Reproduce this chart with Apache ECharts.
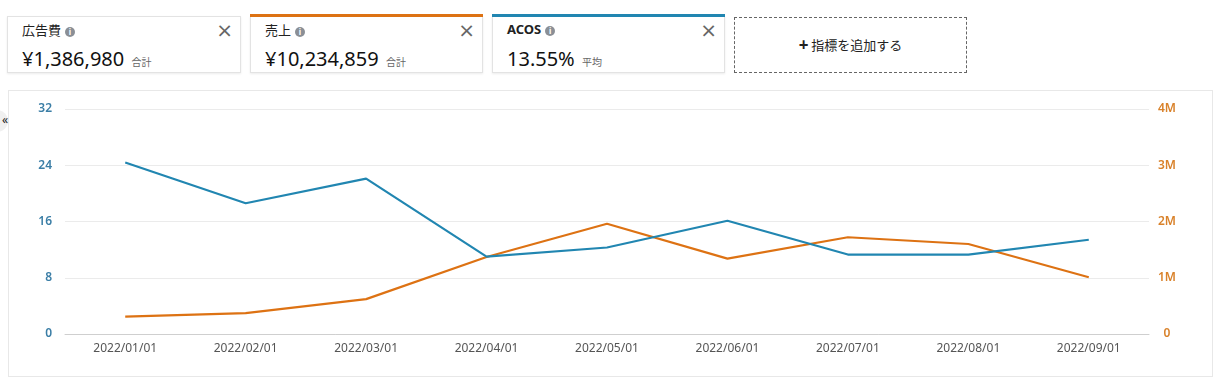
<!DOCTYPE html>
<html>
<head>
<meta charset="utf-8">
<script src="https://cdn.jsdelivr.net/npm/echarts@6/dist/echarts.min.js"></script>
<style>
  body { margin: 0; width: 1220px; height: 386px; background: #fff; position: relative; overflow: hidden;
         font-family: "Noto Sans", "Noto Sans CJK JP", sans-serif; color: #111; }
  .card { position: absolute; top: 16px; height: 57px; box-sizing: border-box; background: #fff;
          border: 1px solid #e3e3e3; box-shadow: 0 1px 2px rgba(0,0,0,0.08); }
  .card .ttl { position: absolute; left: 14px; top: 3px; font-size: 13px; color: #222; }
  .card .ttl b { font-weight: 700; }
  .card .info { display: inline-block; width: 10px; height: 10px; border-radius: 50%; background: #8a8f96;
                color: #fff; font-size: 8px; line-height: 10px; text-align: center; margin-left: 4px; vertical-align: 0px; font-weight: 700; }
  .card .x { position: absolute; right: 7px; top: 1px; font-size: 20px; color: #666; font-family: "DejaVu Sans", sans-serif; }
  .card .val { position: absolute; left: 14px; top: 28px; font-size: 20px; color: #111; white-space: nowrap; }
  .card .val small { font-size: 10px; color: #666; margin-left: 2px; }
  .bar { position: absolute; left: -1px; right: -1px; top: -3px; height: 3px; }
  .add { position: absolute; left: 734px; top: 17px; width: 233px; height: 56px; box-sizing: border-box;
         border: 1px dashed #666; font-size: 13px; text-align: center; line-height: 54px; color: #222; }
  .add span { font-size: 17px; font-weight: 700; vertical-align: -1px; margin-right: 3px; }
  #wrap { position: absolute; left: 8px; top: 90px; width: 1205px; height: 287px; box-sizing: border-box;
          border: 1px solid #e8e8e8; }
  #box { width: 100%; height: 100%; }
  .coll { position: absolute; left: -8px; top: 110px; width: 16px; height: 22px; border-radius: 0 11px 11px 0;
          background: #f0f0f0; font-size: 12px; line-height: 20px; text-align: right; color: #222; }
</style>
</head>
<body>
<div class="card" style="left:7px;width:234px;">
  <div class="ttl">広告費<span class="info">i</span></div>
  <div class="x">×</div>
  <div class="val">¥1,386,980 <small>合計</small></div>
</div>
<div class="card" style="left:250px;width:233px;">
  <div class="bar" style="background:#dd7213"></div>
  <div class="ttl">売上<span class="info">i</span></div>
  <div class="x">×</div>
  <div class="val">¥10,234,859 <small>合計</small></div>
</div>
<div class="card" style="left:492px;width:233px;">
  <div class="bar" style="background:#2186b1"></div>
  <div class="ttl"><b>ACOS</b><span class="info">i</span></div>
  <div class="x">×</div>
  <div class="val">13.55% <small>平均</small></div>
</div>
<div class="add"><span>+</span>指標を追加する</div>
<div id="wrap"><div id="box"></div></div>
<div class="coll">«</div>
<script>
// x 軸の日付
const dates = ['2022/01/01', '2022/02/01', '2022/03/01', '2022/04/01', '2022/05/01',
               '2022/06/01', '2022/07/01', '2022/08/01', '2022/09/01'];
// ACOS (%) 左軸
const acos = [24.4, 18.6, 22.1, 11.0, 12.3, 16.1, 11.3, 11.3, 13.4];
// 売上 (円) 右軸
const sales = [310000, 370000, 620000, 1370000, 1960000, 1340000, 1720000, 1600000, 1010000];
// 軸の目盛り
const leftTicks = [0, 8, 16, 24, 32];
const rightTicks = [0, 1000000, 2000000, 3000000, 4000000];

const blue = '#2186b1';
const orange = '#dd7213';

var myChart = echarts.init(document.getElementById('box'));
myChart.setOption({
  animation: false,
  grid: { left: 56, right: 63, top: 18, bottom: 42 },
  xAxis: {
    type: 'category',
    data: dates,
    boundaryGap: true,
    axisLine: { lineStyle: { color: '#cfcfcf' } },
    axisTick: { show: false },
    axisLabel: { color: '#555', fontSize: 12, margin: 9, fontFamily: 'Noto Sans' }
  },
  yAxis: [
    {
      type: 'value',
      min: leftTicks[0],
      max: leftTicks[leftTicks.length - 1],
      interval: leftTicks[1] - leftTicks[0],
      position: 'left',
      axisLine: { show: false },
      axisTick: { show: false },
      splitLine: { lineStyle: { color: '#ebebeb' } },
      axisLabel: { color: '#3b7ea6', fontSize: 12, fontWeight: 600, margin: 13, fontFamily: 'Noto Sans' }
    },
    {
      type: 'value',
      min: rightTicks[0],
      max: rightTicks[rightTicks.length - 1],
      interval: rightTicks[1] - rightTicks[0],
      position: 'right',
      axisLine: { show: false },
      axisTick: { show: false },
      splitLine: { show: false },
      axisLabel: {
        color: '#d9822b', fontSize: 12, fontWeight: 600, margin: 18, align: 'center', fontFamily: 'Noto Sans',
        formatter: function (v) { return v === 0 ? '0' : (v / 1000000) + 'M'; }
      }
    }
  ],
  series: [
    {
      name: '売上', type: 'line', yAxisIndex: 1, data: sales,
      symbol: 'none', lineStyle: { color: orange, width: 2.2 }, z: 2
    },
    {
      name: 'ACOS', type: 'line', yAxisIndex: 0, data: acos,
      symbol: 'none', lineStyle: { color: blue, width: 2.2 }, z: 3
    }
  ]
});
</script>
</body>
</html>
